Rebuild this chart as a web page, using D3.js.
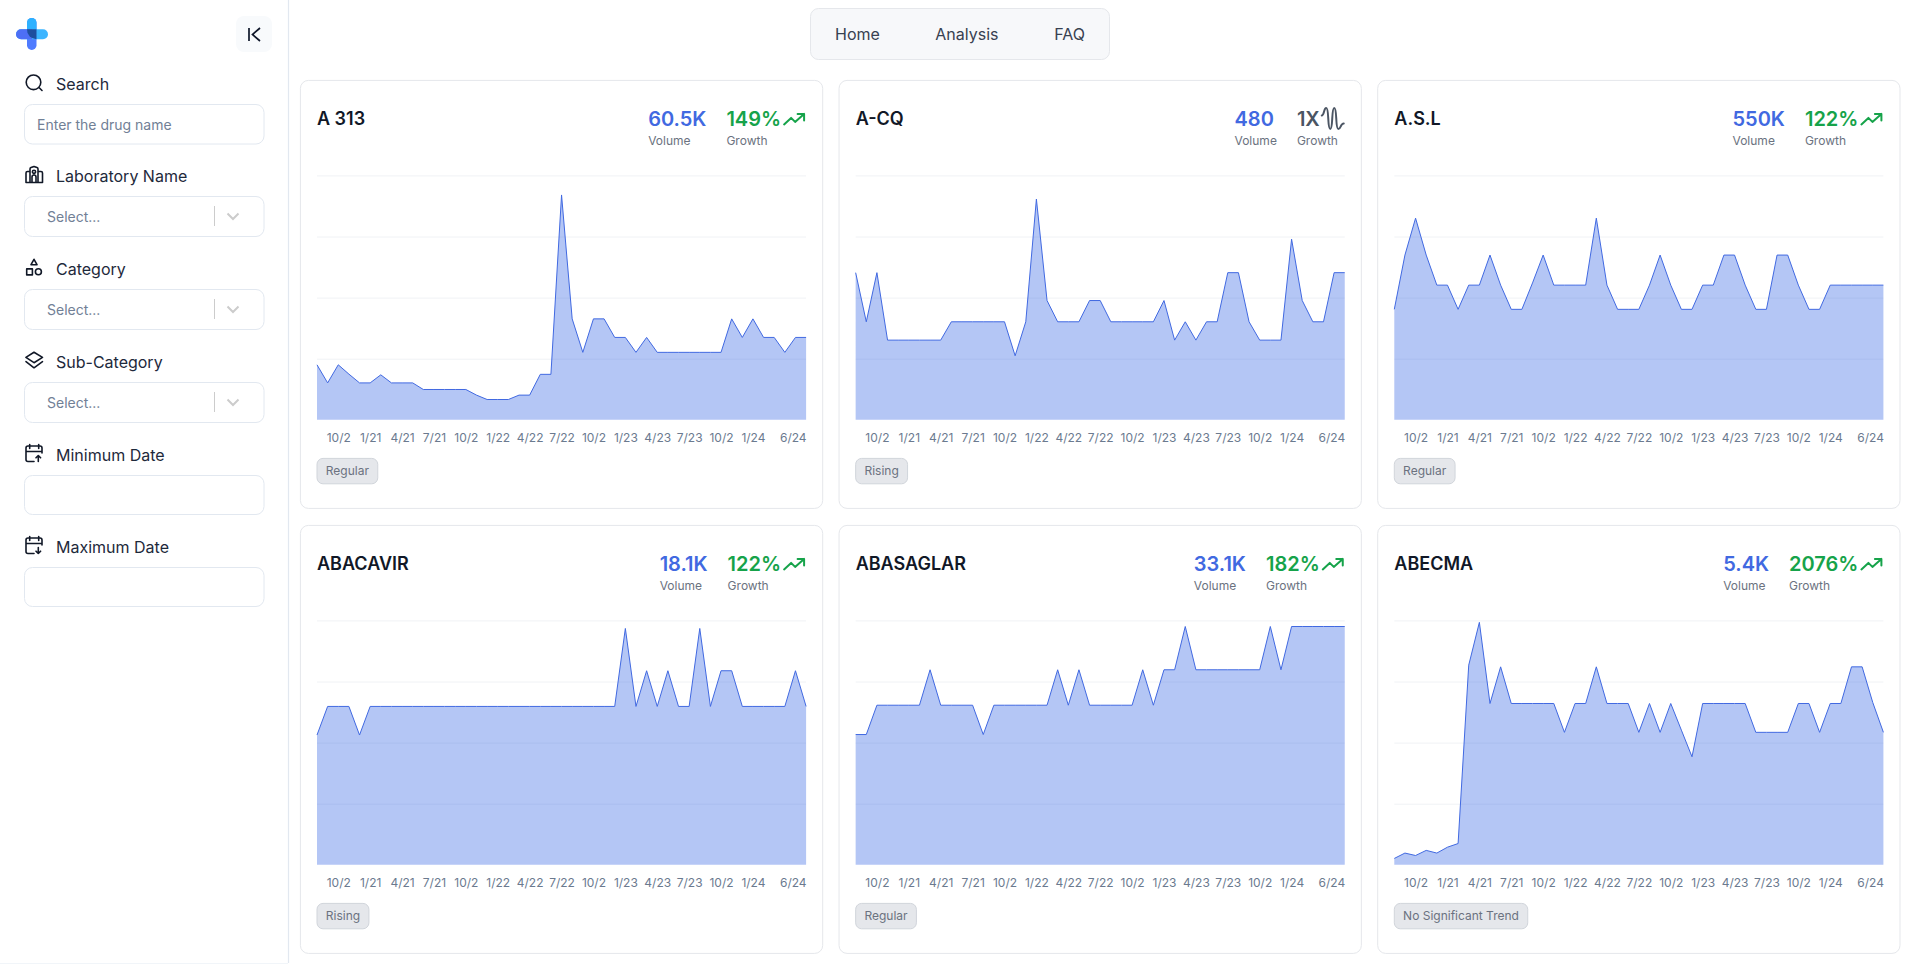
<!DOCTYPE html>
<html>
<head>
<meta charset="utf-8">
<title>Drug dashboard</title>
<script src="https://cdn.jsdelivr.net/npm/d3@7"></script>
<style>
  html, body { margin: 0; padding: 0; background: #fff; overflow: hidden; }
  svg { display: block; font-family: Inter, "Noto Sans", sans-serif; }
</style>
</head>
<body>
<div id="chart"></div>
<script>
const drugNames = ["A 313", "A-CQ", "A.S.L", "ABACAVIR", "ABASAGLAR", "ABECMA"];
const volumes = ["60.5K", "480", "550K", "18.1K", "33.1K", "5.4K"];
const growths = ["149%", "1X", "122%", "122%", "182%", "2076%"];
const trends = ["Regular", "Rising", "Regular", "Rising", "Regular", "No Significant Trend"];

// months from 8/20 to 6/24, labels as shown on the axis
const tickMonths = [2, 5, 8, 11, 14, 17, 20, 23, 26, 29, 32, 35, 38, 41, 46];
const tickLabels = ["10/2", "1/21", "4/21", "7/21", "10/2", "1/22", "4/22", "7/22", "10/2", "1/23", "4/23", "7/23", "10/2", "1/24", "6/24"];

// no y axis in the picture, values are read as % of the plot height
const a313 = [22.5, 15.1, 22.5, 18.7, 15.1, 15.1, 18.4, 15.1, 15.1, 15.1, 12.4, 12.4, 12.4, 12.4, 12.4, 10.1, 8.3, 8.3, 8.3, 10.1, 10.1, 18.6, 18.6, 92, 41.3, 27.6, 41.3, 41.3, 33.7, 33.7, 27.6, 33.7, 27.6, 27.6, 27.6, 27.6, 27.6, 27.6, 27.6, 41.3, 33.7, 41.3, 33.7, 33.7, 27.6, 33.7, 33.7];
const aCq = [60.2, 40.1, 60.2, 32.6, 32.6, 32.6, 32.6, 32.6, 32.6, 40.1, 40.1, 40.1, 40.1, 40.1, 40.1, 26.2, 40.1, 90.3, 48.8, 40.1, 40.1, 40.1, 48.8, 48.8, 40.1, 40.1, 40.1, 40.1, 40.1, 48.8, 32.6, 40.1, 32.6, 40.1, 40.1, 60.2, 60.2, 40.1, 32.6, 32.6, 32.6, 73.9, 48.8, 40.1, 40.1, 60.2, 60.2];
const asl = [45.2, 67.4, 82.5, 67.4, 55.1, 55.1, 45.2, 55.1, 55.1, 67.4, 55.1, 45.2, 45.2, 56, 67.4, 55.1, 55.1, 55.1, 55.1, 82.5, 55.1, 45.2, 45.2, 45.2, 55.1, 67.4, 55.1, 45.2, 45.2, 55.1, 55.1, 67.4, 67.4, 55.1, 45.2, 45.2, 67.4, 67.4, 55.1, 45.2, 45.2, 55.1, 55.1, 55.1, 55.1, 55.1, 55.1];
const abacavir = [53.1, 64.8, 64.8, 64.8, 53.1, 64.8, 64.8, 64.8, 64.8, 64.8, 64.8, 64.8, 64.8, 64.8, 64.8, 64.8, 64.8, 64.8, 64.8, 64.8, 64.8, 64.8, 64.8, 64.8, 64.8, 64.8, 64.8, 64.8, 64.8, 96.7, 64.8, 79.4, 64.8, 79.4, 64.8, 64.8, 96.7, 64.8, 79.4, 79.4, 64.8, 64.8, 64.8, 64.8, 64.8, 79.4, 64.8];
const abasaglar = [53.3, 53.3, 65.3, 65.3, 65.3, 65.3, 65.3, 79.8, 65.3, 65.3, 65.3, 65.3, 53.3, 65.3, 65.3, 65.3, 65.3, 65.3, 65.3, 79.8, 65.3, 79.8, 65.3, 65.3, 65.3, 65.3, 65.3, 79.8, 65.3, 79.8, 79.8, 97.5, 79.8, 79.8, 79.8, 79.8, 79.8, 79.8, 79.8, 97.5, 79.8, 97.5, 97.5, 97.5, 97.5, 97.5, 97.5];
const abecma = [2.6, 4.8, 3.8, 5.9, 4.8, 7.2, 8.7, 81.7, 99.2, 66, 81, 66, 66, 66, 66, 66, 54.2, 66, 66, 81, 66, 66, 66, 54.2, 66, 54.2, 66, 55.1, 44.2, 66, 66, 66, 66, 66, 54.2, 54.2, 54.2, 54.2, 66, 66, 54.2, 66, 66, 81, 81, 66.4, 54.2];
const allSeries = [a313, aCq, asl, abacavir, abasaglar, abecma];

const filterLabels = ["Search", "Laboratory Name", "Category", "Sub-Category", "Minimum Date", "Maximum Date"];
const navLabels = ["Home", "Analysis", "FAQ"];

const width = 1920;
const height = 966;
const blue = "#4169e1";
const green = "#16a34a";
const border = "#e5e7eb";

const svg = d3.select("#chart")
  .append("svg")
  .attr("viewBox", [0, 0, width, height])
  .attr("width", width)
  .attr("height", height);

// ---- sidebar ----
const side = svg.append("g");

side.append("line").attr("x1", 288.5).attr("x2", 288.5).attr("y1", 0).attr("y2", 963)
  .attr("stroke", "#e2e8f0").attr("stroke-width", 1.2);
side.append("line").attr("x1", 0).attr("x2", 288).attr("y1", 963.5).attr("y2", 963.5)
  .attr("stroke", "#f1f5f9");

// logo
const logo = side.append("g");
logo.append("rect").attr("x", 27).attr("y", 18).attr("width", 9.5).attr("height", 32).attr("rx", 4.7).attr("fill", "#4f7bff");
logo.append("path").attr("d", "M27 34V22.7a4.75 4.75 0 0 1 9.5 0V34Z").attr("fill", "#2db1ff");
logo.append("rect").attr("x", 16).attr("y", 29.2).attr("width", 32).attr("height", 10).attr("rx", 5).attr("fill", "#3db5ff");
logo.append("path").attr("d", "M32 29.2H21a5 5 0 0 0 0 10H32Z").attr("fill", "#4d6ff5");
logo.append("path").attr("d", "M27 29.2H36.5V39.2A9.5 9.5 0 0 1 27 29.2Z").attr("fill", "#1d4e9e");

// collapse button
side.append("rect").attr("x", 236).attr("y", 16).attr("width", 36).attr("height", 36).attr("rx", 8).attr("fill", "#f8fafc");
side.append("path").attr("d", "M249 28V41M260 28L252.5 34.5L260 41")
  .attr("fill", "none").attr("stroke", "#0f172a").attr("stroke-width", 1.7);

const filterLabelY = [84, 176, 269, 362, 455, 547];
const filterBoxes = [
  { y: 104.5, h: 39.5, text: "Enter the drug name", x: 37 },
  { y: 196.5, h: 40, text: "Select...", x: 47, select: true },
  { y: 289.5, h: 40, text: "Select...", x: 47, select: true },
  { y: 382.5, h: 40, text: "Select...", x: 47, select: true },
  { y: 475.5, h: 39, text: "" },
  { y: 567.5, h: 39, text: "" }
];

filterLabels.forEach((label, i) => {
  side.append("text").attr("x", 56).attr("y", filterLabelY[i]).attr("dy", "0.36em")
    .attr("font-size", 16).attr("fill", "#1e293b").text(label);

  const b = filterBoxes[i];
  side.append("rect").attr("x", 24.5).attr("y", b.y).attr("width", 239.5).attr("height", b.h).attr("rx", 8)
    .attr("fill", "#fff").attr("stroke", "#e2e8f0").attr("stroke-width", 1);
  if (b.text) {
    side.append("text").attr("x", b.x).attr("y", b.y + b.h / 2 + 0.5).attr("dy", "0.36em")
      .attr("font-size", 14).attr("fill", "#718096").text(b.text);
  }
  if (b.select) {
    side.append("line").attr("x1", 214.5).attr("x2", 214.5).attr("y1", b.y + 9.5).attr("y2", b.y + 29.5)
      .attr("stroke", "#cccccc");
    side.append("path").attr("d", `M227.5 ${b.y + 17}L233 ${b.y + 22.5}L238.5 ${b.y + 17}`)
      .attr("fill", "none").attr("stroke", "#cccccc").attr("stroke-width", 2);
  }
});

const iconStroke = { fill: "none", stroke: "#111827", "stroke-width": 1.6, "stroke-linecap": "round", "stroke-linejoin": "round" };
function icon(d) {
  const p = side.append("path").attr("d", d);
  Object.entries(iconStroke).forEach(([k, v]) => p.attr(k, v));
}
// search
icon("M33.5 75a7.3 7.3 0 1 0 0 14.6a7.3 7.3 0 1 0 0 -14.6ZM39 87.5L42 90.5");
// laboratory
icon("M26 182.5V173a1.5 1.5 0 0 1 1.5 -1.5H30V169a1.5 1.5 0 0 1 1 -1.4L34 166.5L37 167.6a1.5 1.5 0 0 1 1 1.4V171.5H41a1.5 1.5 0 0 1 1.5 1.5V182.5ZM30 171.5V182.5M38 171.5V182.5M32 182.5V177a2 2 0 0 1 4 0V182.5M34 170.2a1.6 1.6 0 1 0 0 3.2a1.6 1.6 0 1 0 0 -3.2Z");
// category
icon("M34 259.3L37 264.7H31ZM26.7 268.9H32.4V274.9H26.7ZM38.4 268.8a3 3 0 1 0 0 6a3 3 0 1 0 0 -6Z");
// sub-category
icon("M34 352.3L42.5 357.4L34 362.7L25.9 357.4ZM26 361.6L34 367.8L42.5 361.6");
// calendars
[[455 - 10, "M38.3 461.5V455.5M36 457.8L38.3 455.5L40.6 457.8"], [547 - 10, "M38.3 547.5V553.5M36 551.2L38.3 553.5L40.6 551.2"]].forEach(([y, arrow]) => {
  icon(`M34 ${y + 16.5}H28a2 2 0 0 1 -2 -2V${y + 3}a2 2 0 0 1 2 -2H40a2 2 0 0 1 2 2V${y + 8}M29.7 ${y - 0.5}V${y + 3.5}M38.7 ${y - 0.5}V${y + 3.5}M26 ${y + 6.5}H42`);
  icon(arrow);
});

// ---- nav ----
const nav = svg.append("g");
nav.append("rect").attr("x", 810.5).attr("y", 8.5).attr("width", 299).attr("height", 51).attr("rx", 8)
  .attr("fill", "#f7f8fa").attr("stroke", border);
const navX = [835, 935.3, 1054.3];
nav.selectAll("text").data(navLabels).join("text")
  .attr("x", (d, i) => navX[i]).attr("y", 40)
  .attr("font-size", 16).attr("fill", "#374151").text(d => d);

// ---- cards ----
const cardW = 522.3;
const cardH = 428;
const pad = 16.6;
const plotTop = 95;
const plotH = 244.4;
const plotW = cardW - pad * 2;

const x = d3.scaleLinear().domain([0, 46]).range([0, plotW]);
const y = d3.scaleLinear().domain([0, 100]).range([plotH, 0]);

const area = d3.area().x((d, i) => x(i)).y0(plotH).y1(d => y(d));
const line = d3.line().x((d, i) => x(i)).y(d => y(d));

allSeries.forEach((values, i) => {
  const cardX = 300.4 + (i % 3) * 538.65;
  const cardY = 80.4 + Math.floor(i / 3) * 445;
  const card = svg.append("g").attr("transform", `translate(${cardX},${cardY})`);

  card.append("rect").attr("width", cardW).attr("height", cardH).attr("rx", 8)
    .attr("fill", "#fff").attr("stroke", border);

  card.append("text").attr("x", pad).attr("y", 44.8)
    .attr("font-size", 18).attr("font-weight", 600).attr("fill", "#111827").text(drugNames[i]);

  // growth + volume, laid out from the right edge
  const up = growths[i].endsWith("%");
  const growthColor = up ? green : "#4b5563";
  const growthText = card.append("text").attr("y", 45.5)
    .attr("font-size", 20).attr("font-weight", 600).attr("fill", growthColor).text(growths[i]);
  const growthW = growthText.node().getComputedTextLength();
  const growthX = cardW - pad - 25 - growthW;
  growthText.attr("x", growthX);
  card.append("text").attr("x", growthX).attr("y", 64.5)
    .attr("font-size", 12).attr("fill", "#6b7280").text("Growth");

  const iconG = card.append("g").attr("transform", `translate(${cardW - pad - 24},${up ? 27 : 26})`)
    .attr("fill", "none").attr("stroke", growthColor).attr("stroke-width", 2)
    .attr("stroke-linecap", "round").attr("stroke-linejoin", "round");
  if (up) {
    iconG.append("path").attr("d", "M2 17L9 10.5L13 14.5L22 6.5M15.5 6.5H22V13");
  } else {
    iconG.append("path").attr("d", "M1 9C3.5 9 3 1.5 5.5 1.5C8.5 1.5 6.5 22.5 9.5 22.5C12.5 22.5 10.5 1.5 13.5 1.5C16.5 1.5 14.5 22.5 17.5 22.5C20.5 22.5 19.5 17 23 17");
  }

  const volumeText = card.append("text").attr("y", 45.5)
    .attr("font-size", 20).attr("font-weight", 600).attr("fill", blue).text(volumes[i]);
  const volumeLabel = card.append("text").attr("y", 64.5)
    .attr("font-size", 12).attr("fill", "#6b7280").text("Volume");
  const colW = Math.max(volumeText.node().getComputedTextLength(), volumeLabel.node().getComputedTextLength());
  const volumeX = growthX - 20 - colW;
  volumeText.attr("x", volumeX);
  volumeLabel.attr("x", volumeX);

  // chart
  const plot = card.append("g").attr("transform", `translate(${pad},${plotTop})`);

  plot.append("g")
    .call(d3.axisLeft(y).tickValues([25, 50, 75, 100]).tickSize(-plotW).tickFormat(""))
    .call(g => g.select(".domain").remove())
    .call(g => g.selectAll(".tick line").attr("stroke", "#f0f2f5"));

  plot.append("path").datum(values).attr("d", area).attr("fill", "#4370e6").attr("fill-opacity", 0.4);
  plot.append("path").datum(values).attr("d", line).attr("fill", "none").attr("stroke", blue).attr("stroke-width", 1);

  const xAxis = plot.append("g").attr("transform", `translate(0,${plotH})`)
    .call(d3.axisBottom(x).tickValues(tickMonths).tickSize(0).tickPadding(14)
      .tickFormat((d, k) => tickLabels[k]));
  xAxis.select(".domain").remove();
  xAxis.selectAll("text")
    .attr("font-family", "Inter, sans-serif").attr("font-size", 12).attr("fill", "#6b7a8f")
    .attr("text-anchor", d => d === 46 ? "end" : "middle");

  // trend badge
  const badge = card.append("g").attr("transform", `translate(${pad},378)`);
  const badgeRect = badge.append("rect").attr("height", 25.4).attr("rx", 6)
    .attr("fill", "#e5e7eb").attr("stroke", "#d1d5db");
  const badgeText = badge.append("text").attr("x", 8.8).attr("y", 17)
    .attr("font-size", 12).attr("fill", "#6b7280").text(trends[i]);
  badgeRect.attr("width", badgeText.node().getComputedTextLength() + 17.6);
});
</script>
</body>
</html>
